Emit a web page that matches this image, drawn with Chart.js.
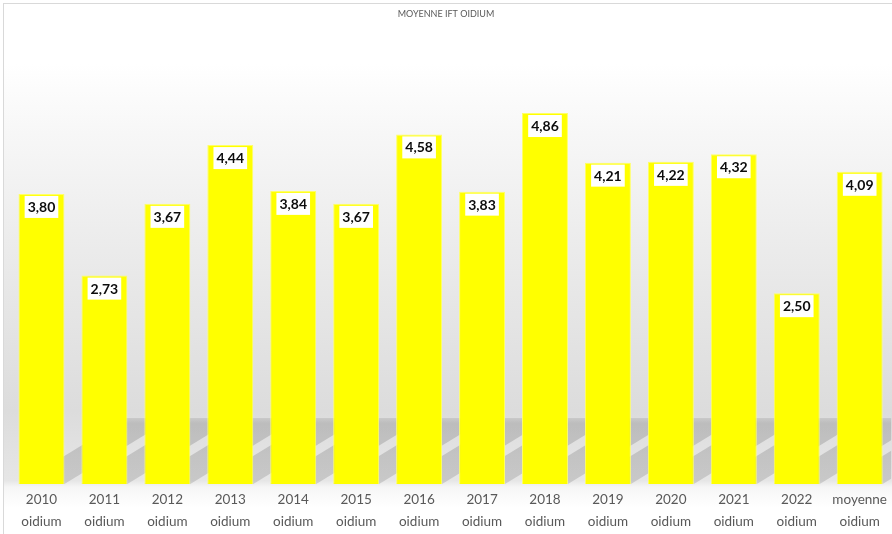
<!DOCTYPE html>
<html>
<head>
<meta charset="utf-8">
<script src="https://cdn.jsdelivr.net/npm/chart.js@4"></script>
<style>
  html, body { margin: 0; padding: 0; background: #fff; }
  #wrap { width: 892px; height: 534px; position: relative; }
</style>
</head>
<body>
<div id="wrap"><canvas id="chart"></canvas></div>
<script>
var years = ['2010', '2011', '2012', '2013', '2014', '2015', '2016', '2017', '2018', '2019', '2020', '2021', '2022', 'moyenne'];
var values = [3.80, 2.73, 3.67, 4.44, 3.84, 3.67, 4.58, 3.83, 4.86, 4.21, 4.22, 4.32, 2.50, 4.09];
var labels = years.map(function (y) { return [y, 'oidium']; });

var fmt = function (v) {
    return v.toFixed(2).replace('.', ',');
};

// background gradient, border and title
var backdrop = {
    id: 'backdrop',
    beforeDraw: function (chart) {
        var ctx = chart.ctx, w = chart.width, h = chart.height;
        ctx.save();
        var g = ctx.createLinearGradient(0, 0, 0, h);
        g.addColorStop(0, '#ffffff');
        g.addColorStop(0.12, '#ffffff');
        g.addColorStop(0.25, '#f7f7f7');
        g.addColorStop(0.45, '#ececec');
        g.addColorStop(0.77, '#dcdcdc');
        g.addColorStop(0.90, '#e6e6e6');
        g.addColorStop(0.912, '#f6f6f6');
        g.addColorStop(0.95, '#ffffff');
        g.addColorStop(1, '#ffffff');
        ctx.fillStyle = g;
        ctx.fillRect(3, 3, w - 3, h - 3);
        ctx.strokeStyle = '#d9d9d9';
        ctx.lineWidth = 1;
        ctx.strokeRect(3.5, 3.5, w, h);
        ctx.fillStyle = '#595959';
        ctx.font = '9px Lato';
        ctx.textAlign = 'center';
        ctx.textBaseline = 'middle';
        ctx.fillText('MOYENNE IFT OIDIUM', 446, 14);
        ctx.restore();
    }
};

// slanted floor shadows behind the bars
var shadows = {
    id: 'shadows',
    beforeDatasetsDraw: function (chart) {
        var ctx = chart.ctx, area = chart.chartArea;
        var meta = chart.getDatasetMeta(0);
        ctx.save();
        ctx.beginPath();
        ctx.rect(area.left, area.top, area.right - area.left, area.bottom - area.top);
        ctx.clip();
        meta.data.forEach(function (bar) {
            var x0 = bar.x - bar.width / 2, x1 = bar.x + bar.width / 2;
            var base = bar.base, top = base - 66, d = 108;
            var g = ctx.createLinearGradient(0, top, 0, base);
            g.addColorStop(0, 'rgba(0,0,0,0.09)');
            g.addColorStop(0.08, 'rgba(0,0,0,0.15)');
            g.addColorStop(1, 'rgba(0,0,0,0.13)');
            ctx.fillStyle = g;
            ctx.beginPath();
            ctx.moveTo(x0, base);
            ctx.lineTo(x1, base);
            ctx.lineTo(x1 + d, top);
            ctx.lineTo(x0 + d, top);
            ctx.closePath();
            ctx.fill();
        });
        ctx.restore();
    }
};

// value labels in white boxes
var valueLabels = {
    id: 'valueLabels',
    afterDatasetsDraw: function (chart) {
        var ctx = chart.ctx;
        var meta = chart.getDatasetMeta(0);
        ctx.save();
        ctx.font = 'bold 14px Lato';
        ctx.textAlign = 'center';
        ctx.textBaseline = 'middle';
        meta.data.forEach(function (bar, i) {
            var txt = fmt(values[i]);
            var tw = ctx.measureText(txt).width + 6;
            var by = bar.y + 2;
            ctx.fillStyle = '#ffffff';
            ctx.fillRect(bar.x - tw / 2, by, tw, 22);
            ctx.fillStyle = '#0d0d0d';
            ctx.fillText(txt, bar.x, by + 11.5);
        });
        ctx.restore();
    }
};

var config = {
    type: 'bar',
    data: {
        labels: labels,
        datasets: [{
            label: 'MOYENNE IFT OIDIUM',
            data: values,
            backgroundColor: '#ffff00',
            borderColor: '#ffff66',
            borderWidth: 1,
            categoryPercentage: 1,
            barPercentage: 0.73
        }]
    },
    options: {
        responsive: true,
        maintainAspectRatio: false,
        animation: false,
        layout: { padding: { left: 10, right: 0, top: 26, bottom: -4 } },
        plugins: {
            legend: { display: false },
            title: { display: false },
            tooltip: { enabled: false }
        },
        scales: {
            x: {
                grid: { display: false, drawTicks: false, tickLength: 0 },
                border: { display: false },
                ticks: {
                    autoSkip: false,
                    maxRotation: 0,
                    padding: 5,
                    color: '#595959',
                    font: { family: 'Lato', size: 13.5, lineHeight: 1.63 }
                }
            },
            y: {
                display: false,
                min: 0,
                max: 6
            }
        }
    },
    plugins: [backdrop, shadows, valueLabels]
};

var ctx1 = document.getElementById('chart').getContext('2d');
window.myBar = new Chart(ctx1, config);
</script>
</body>
</html>
